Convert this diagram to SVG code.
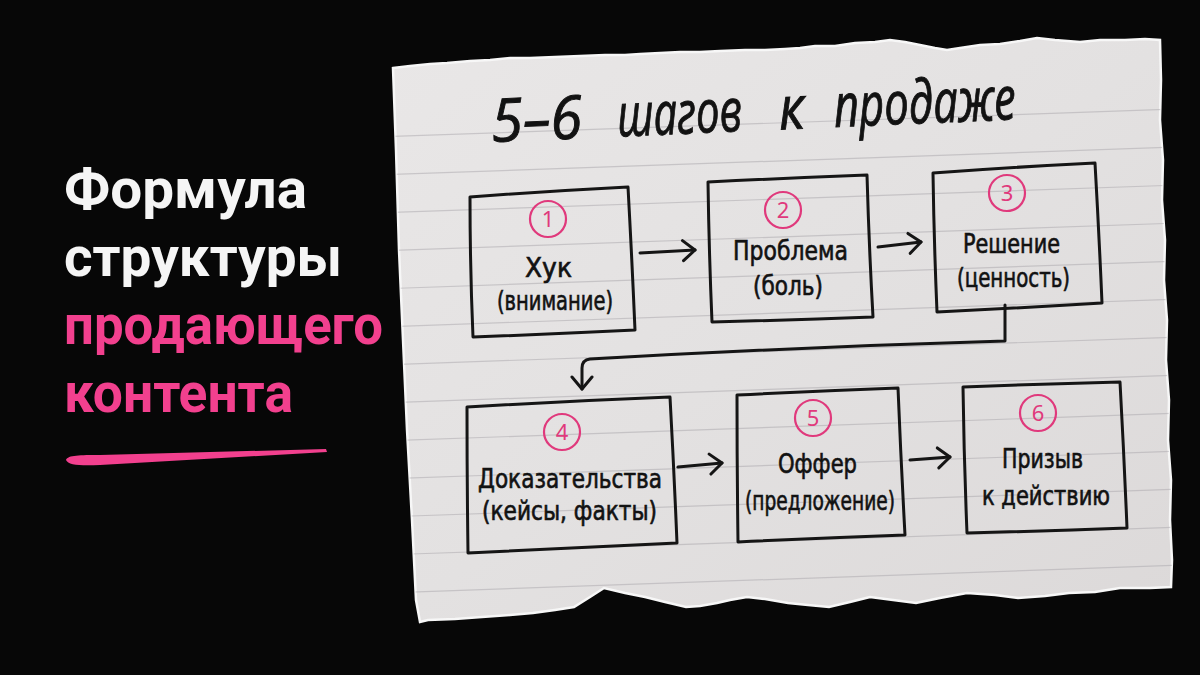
<svg xmlns="http://www.w3.org/2000/svg" width="1200" height="675" viewBox="0 0 1200 675">
<defs>
<style>
.head{font-family:Roboto,"Liberation Sans",sans-serif;font-weight:700;font-size:55px}
.white{fill:#f5f5f5}
.pink{fill:#f2408e}
.box{fill:none;stroke:#151515;stroke-width:3;stroke-linejoin:round;stroke-linecap:round}
.num{fill:none;stroke:#e0397c;stroke-width:2.2}
.numt{font-family:"Noto Sans","DejaVu Sans",sans-serif;font-size:22px;fill:#e0397c;text-anchor:middle}
.lbl{font-family:"DejaVu Sans Condensed","DejaVu Sans",sans-serif;font-stretch:condensed;font-size:26px;fill:#121212;stroke:#121212;stroke-width:0.6;text-anchor:middle}
.ttl{font-family:"Open Sans","DejaVu Sans",sans-serif;font-style:italic;font-size:60px;fill:#121212;stroke:#121212;stroke-width:1}
.conn{fill:none;stroke:#151515;stroke-width:3;stroke-linecap:round;stroke-linejoin:round}
.rule{stroke:#a9a6ab;stroke-width:1.2;opacity:0.5}
</style>
<linearGradient id="paperG" x1="0" y1="0" x2="1" y2="1">
<stop offset="0" stop-color="#e9e7e7"/>
<stop offset="0.5" stop-color="#e3e1e1"/>
<stop offset="1" stop-color="#dcd9d9"/>
</linearGradient>
<marker id="chev" viewBox="0 0 16 24" refX="14" refY="12" markerWidth="16" markerHeight="24" markerUnits="userSpaceOnUse" orient="auto">
<path d="M2,2 L14,12 L2,22" fill="none" stroke="#151515" stroke-width="3" stroke-linecap="round" stroke-linejoin="round"/>
</marker>
<clipPath id="paperClip"><path id="paperShape" d="M393,68 L410,66 L430,64 L447,63 L470,61 L490,60 L510,58 L530,58 L555,57 L580,56 L605,55 L625,55 L640,54 L660,53 L680,52 L700,52 L720,51 L745,50 L765,50 L785,49 L800,48 L815,46 L835,46 L855,43 L875,42 L890,40 L905,42 L920,45 L935,48 L947,50 L960,48 L980,45 L1000,44 L1020,41 L1037,38 L1055,40 L1080,42 L1100,40 L1125,40 L1145,39 L1160,40 L1161,80 L1160,120 L1163,160 L1162,200 L1165,240 L1164,280 L1167,320 L1166,360 L1169,400 L1168,440 L1171,480 L1170,520 L1172,560 L1171,587 L1150,588 L1120,588 L1095,592 L1069,593 L1045,596 L1018,598 L995,595 L967,593 L940,598 L916,603 L893,600 L870,597 L850,602 L829,607 L808,605 L788,603 L765,599 L747,597 L730,600 L717,603 L700,606 L686,607 L665,602 L645,597 L625,593 L604,588 L590,597 L574,607 L555,610 L533,613 L510,615 L482,617 L455,619 L428,620 L420,622 L416,600 L412,520 L407,430 L403,340 L399,250 L396,150 Z"/></clipPath>
</defs>

<rect x="0" y="0" width="1200" height="675" fill="#070707"/>

<g id="headline">
<text class="head white" x="64" y="208" textLength="243" lengthAdjust="spacingAndGlyphs">Формула</text>
<text class="head white" x="64" y="276" textLength="278" lengthAdjust="spacingAndGlyphs">структуры</text>
<text class="head pink" x="64" y="344" textLength="319" lengthAdjust="spacingAndGlyphs">продающего</text>
<text class="head pink" x="64" y="412" textLength="229" lengthAdjust="spacingAndGlyphs">контента</text>
<path d="M66,460 C68,455 80,455 100,455 L326,449 L327,452 L100,465 C80,466 68,465 66,460 Z" fill="#f2408e"/>
</g>

<g id="paper">
<use href="#paperShape" fill="url(#paperG)" stroke="#f7f7f7" stroke-width="2.5"/>
<g clip-path="url(#paperClip)">
<g transform="rotate(-2 780 330)">
<line class="rule" x1="360" y1="123" x2="1200" y2="123"/>
<line class="rule" x1="360" y1="161" x2="1200" y2="161"/>
<line class="rule" x1="360" y1="199" x2="1200" y2="199"/>
<line class="rule" x1="360" y1="237" x2="1200" y2="237"/>
<line class="rule" x1="360" y1="275" x2="1200" y2="275"/>
<line class="rule" x1="360" y1="313" x2="1200" y2="313"/>
<line class="rule" x1="360" y1="351" x2="1200" y2="351"/>
<line class="rule" x1="360" y1="389" x2="1200" y2="389"/>
<line class="rule" x1="360" y1="427" x2="1200" y2="427"/>
<line class="rule" x1="360" y1="465" x2="1200" y2="465"/>
<line class="rule" x1="360" y1="503" x2="1200" y2="503"/>
<line class="rule" x1="360" y1="541" x2="1200" y2="541"/>
<line class="rule" x1="360" y1="579" x2="1200" y2="579"/>
<line class="rule" x1="360" y1="617" x2="1200" y2="617"/>
</g>
</g>
</g>

<g id="title" transform="rotate(-2.5 492 142)">
<text class="ttl" x="492" y="142" textLength="91" lengthAdjust="spacingAndGlyphs">5–6</text>
<text class="ttl" x="618" y="142" textLength="125" lengthAdjust="spacingAndGlyphs">шагов</text>
<text class="ttl" x="780" y="142" textLength="25" lengthAdjust="spacingAndGlyphs">к</text>
<text class="ttl" x="835" y="142" textLength="182" lengthAdjust="spacingAndGlyphs">продаже</text>
</g>

<g id="connectors">
<path class="conn" d="M640,253 L695,250" marker-end="url(#chev)"/>
<path class="conn" d="M878,247 L921,242" marker-end="url(#chev)"/>
<path class="conn" d="M1005,305 L1005,341 Q800,347 590,359 Q582,360 582,368 L582,389" marker-end="url(#chev)"/>
<path class="conn" d="M678,467 L722,463" marker-end="url(#chev)"/>
<path class="conn" d="M910,460 L950,457" marker-end="url(#chev)"/>
</g>

<g id="node1">
<path class="box" d="M470,197 Q550,191 628,187 Q632,260 635,330 Q553,334 473,337 Q470,268 470,197 Z"/>
<circle class="num" cx="548" cy="219" r="18"/>
<text class="numt" x="548" y="227">1</text>
<text class="lbl" x="548.5" y="277" textLength="47" lengthAdjust="spacingAndGlyphs">Хук</text>
<text class="lbl" x="555" y="310" textLength="116" lengthAdjust="spacingAndGlyphs">(внимание)</text>
</g>

<g id="node2">
<path class="box" d="M708,182 Q788,178 867,175 Q869,246 873,317 Q792,320 712,322 Q709,252 708,182 Z"/>
<circle class="num" cx="783" cy="210" r="18"/>
<text class="numt" x="783" y="218">2</text>
<text class="lbl" x="790.5" y="260" textLength="115" lengthAdjust="spacingAndGlyphs">Проблема</text>
<text class="lbl" x="788" y="295" textLength="70" lengthAdjust="spacingAndGlyphs">(боль)</text>
</g>

<g id="node3">
<path class="box" d="M933,173 Q1014,167 1095,163 Q1099,233 1102,303 Q1019,308 937,312 Q934,242 933,173 Z"/>
<circle class="num" cx="1007" cy="193" r="18"/>
<text class="numt" x="1007" y="201">3</text>
<text class="lbl" x="1011.5" y="253" textLength="97" lengthAdjust="spacingAndGlyphs">Решение</text>
<text class="lbl" x="1013.5" y="287" textLength="113" lengthAdjust="spacingAndGlyphs">(ценность)</text>
</g>

<g id="node4">
<path class="box" d="M467,407 Q568,401 670,397 Q674,470 677,543 Q572,548 468,553 Q467,480 467,407 Z"/>
<circle class="num" cx="562" cy="432" r="18"/>
<text class="numt" x="562" y="440">4</text>
<text class="lbl" x="570" y="488" textLength="184" lengthAdjust="spacingAndGlyphs">Доказательства</text>
<text class="lbl" x="569.5" y="520" textLength="175" lengthAdjust="spacingAndGlyphs">(кейсы, факты)</text>
</g>

<g id="node5">
<path class="box" d="M737,395 Q818,391 898,388 Q901,462 905,535 Q821,538 738,542 Q737,468 737,395 Z"/>
<circle class="num" cx="813" cy="418" r="18"/>
<text class="numt" x="813" y="426">5</text>
<text class="lbl" x="817.5" y="473" textLength="79" lengthAdjust="spacingAndGlyphs">Оффер</text>
<text class="lbl" x="820" y="510" textLength="150" lengthAdjust="spacingAndGlyphs">(предложение)</text>
</g>

<g id="node6">
<path class="box" d="M963,387 Q1042,384 1120,382 Q1124,455 1127,528 Q1047,531 967,533 Q964,460 963,387 Z"/>
<circle class="num" cx="1038" cy="413" r="18"/>
<text class="numt" x="1038" y="421">6</text>
<text class="lbl" x="1042.5" y="468" textLength="81" lengthAdjust="spacingAndGlyphs">Призыв</text>
<text class="lbl" x="1046" y="505" textLength="128" lengthAdjust="spacingAndGlyphs">к действию</text>
</g>
</svg>
